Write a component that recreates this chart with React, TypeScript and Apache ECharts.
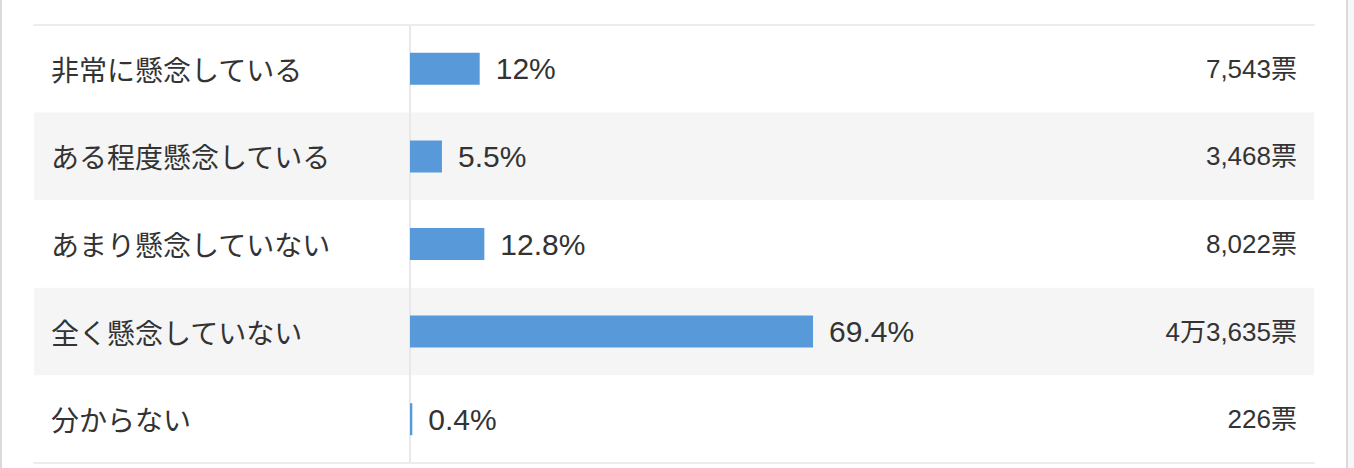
import React, { useEffect, useRef } from "react";
import * as echarts from "echarts";

const categories = [
  "非常に懸念している",
  "ある程度懸念している",
  "あまり懸念していない",
  "全く懸念していない",
  "分からない",
];
const percents = [12, 5.5, 12.8, 69.4, 0.4];
const votes = [7543, 3468, 8022, 43635, 226];

function formatVotes(v: number): string {
  if (v >= 10000) {
    const man = Math.floor(v / 10000);
    const rest = v % 10000;
    return `${man}万${rest.toLocaleString("en-US")}票`;
  }
  return `${v.toLocaleString("en-US")}票`;
}

const voteLabels = votes.map(formatVotes);

export default function App() {
  const ref = useRef<HTMLDivElement>(null);
  useEffect(() => {
    if (!ref.current) return;
    const chart = echarts.init(ref.current, null, { renderer: "svg" });
    const lineColor = "#ececec";
    const numFont = '"Liberation Sans", "Noto Sans CJK JP", sans-serif';
    const jpFont = '"Noto Sans CJK JP", sans-serif';
    chart.setOption({
      animation: false,
      backgroundColor: "#ffffff",
      grid: { left: 34, right: 40, top: 25, bottom: 5, containLabel: false },
      xAxis: [
        {
          type: "value",
          min: -64.75,
          max: 155.67,
          position: "bottom",
          axisLine: { show: true, onZero: false, lineStyle: { color: lineColor, width: 2 } },
          axisTick: { show: false },
          axisLabel: { show: false },
          splitLine: { show: false },
        },
        {
          type: "value",
          min: -64.75,
          max: 155.67,
          position: "top",
          axisLine: { show: true, onZero: false, lineStyle: { color: lineColor, width: 2 } },
          axisTick: { show: false },
          axisLabel: { show: false },
          splitLine: { show: false },
        },
      ],
      yAxis: [
        {
          type: "category",
          inverse: true,
          data: categories,
          position: "left",
          axisLine: { show: true, onZero: true, lineStyle: { color: "#e8e8e8", width: 2 } },
          axisTick: { show: false },
          axisLabel: { show: false },
          splitLine: { show: false },
          splitArea: { show: true, areaStyle: { color: ["#ffffff", "#f5f5f5"] } },
          z: 0,
        },
        {
          type: "category",
          inverse: true,
          data: categories,
          position: "left",
          axisLine: { show: false, onZero: false },
          axisTick: { show: false },
          axisLabel: {
            show: true,
            inside: true,
            margin: 17,
            fontSize: 28,
            color: "#333333",
            fontFamily: jpFont,
          },
          splitLine: { show: false },
          splitArea: { show: false },
          z: 10,
        },
        {
          type: "category",
          inverse: true,
          data: voteLabels,
          position: "right",
          axisLine: { show: false, onZero: false },
          axisTick: { show: false },
          axisLabel: {
            show: true,
            inside: true,
            margin: 17,
            fontSize: 26,
            color: "#333333",
            fontFamily: numFont,
          },
          splitLine: { show: false },
          splitArea: { show: false },
          z: 10,
        },
      ],
      graphic: [
        { type: "rect", left: 0, top: 0, shape: { width: 2, height: 468 }, style: { fill: "#dadada" } },
        { type: "rect", left: 1346, top: 0, shape: { width: 2, height: 468 }, style: { fill: "#dadada" } },
        { type: "rect", left: 1348, top: 0, shape: { width: 6, height: 468 }, style: { fill: "#f7f7f7" } },
      ],
      series: [
        {
          type: "bar",
          xAxisIndex: 0,
          yAxisIndex: 0,
          data: percents,
          barWidth: 32,
          itemStyle: { color: "#5899da" },
          label: {
            show: true,
            position: "right",
            distance: 16,
            fontSize: 30,
            color: "#333333",
            fontFamily: numFont,
            formatter: (p: any) => `${p.value}%`,
          },
          z: 3,
        },
      ],
    });
    return () => chart.dispose();
  }, []);
  return (
    <div
      ref={ref}
      style={{ position: "absolute", left: 0, top: 0, width: 1354, height: 468 }}
    />
  );
}
